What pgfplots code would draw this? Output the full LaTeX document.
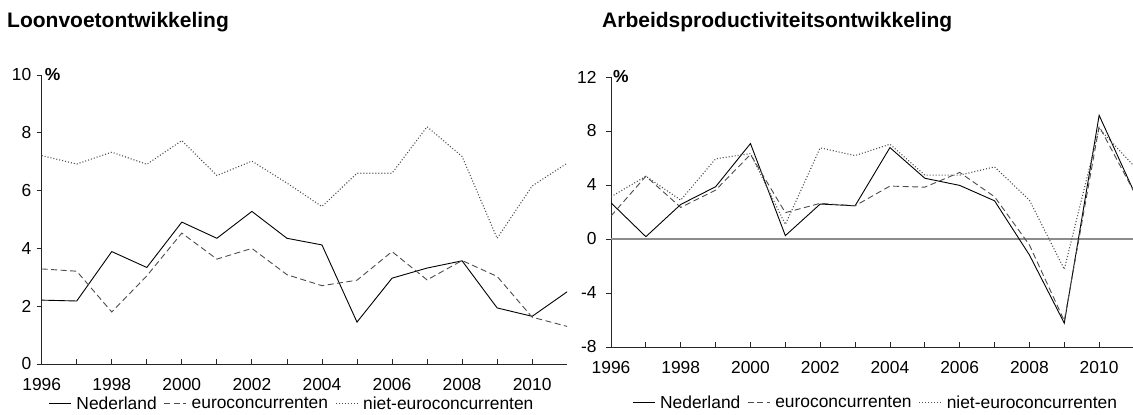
\documentclass[border=0pt]{standalone}
\usepackage{fontspec}
\setmainfont{Liberation Sans}
\usepackage{pgfplots}
\pgfplotsset{compat=1.18}
\definecolor{dashc}{gray}{0.3}
\definecolor{dotc}{gray}{0.3}
\newcommand{\tfont}{\fontsize{17.4bp}{20bp}\selectfont}
\pgfplotsset{
  myax/.style={
    scale only axis,
    axis lines*=left,
    axis line style={line width=0.8bp, black!85},
    tick style={line width=0.8bp, black!85},
    tick align=inside,
    major tick length=5bp,
    every major y tick/.append style={xshift=-5bp},
    xmin=1996, xmax=2011,
    xtick={1996,...,2010},
    xticklabels={1996,,1998,,2000,,2002,,2004,,2006,,2008,,2010},
    /pgf/number format/assume math mode=true,
    tick label style={font=\tfont},
    xticklabel style={yshift=-10.5bp},
    legend style={draw=none, fill=none, legend columns=-1, anchor=center,
      font=\tfont,
      nodes={inner xsep=0bp, inner ysep=0bp},
      /tikz/every odd column/.append style={column sep=5bp},
      /tikz/every even column/.append style={column sep=7bp}},
    legend image code/.code={\draw[##1] (0bp,0bp) -- (22bp,0bp);},
    nl/.style={black, line width=0.9bp},
    eu/.style={dashc, line width=0.9bp, dash pattern=on 6bp off 3.5bp},
    ne/.style={dotc, line width=1.1bp, dash pattern=on 1bp off 2bp},
  }
}
\begin{document}
\begin{tikzpicture}
\path[use as bounding box] (0bp,0bp) rectangle (1133bp,415bp);
\node[anchor=base west, inner sep=0bp, font=\fontsize{21bp}{24bp}\selectfont\bfseries] at (7bp,387bp) {Loonvoetontwikkeling};
\node[anchor=base west, inner sep=0bp, font=\fontsize{21bp}{24bp}\selectfont\bfseries] at (602bp,387bp) {Arbeidsproductiviteitsontwikkeling};

\begin{axis}[myax, name=L, at={(41.7bp,51bp)}, anchor=south west, width=525.5bp, height=289bp,
  ymin=0, ymax=10, ytick={0,2,...,10},
  yticklabel style={xshift=-7bp},
  legend style={at={(0.4744,-0.138)}}]
\addplot[nl] coordinates {(1996,2.21) (1997,2.18) (1998,3.89) (1999,3.34) (2000,4.91) (2001,4.35) (2002,5.28) (2003,4.35) (2004,4.12) (2005,1.45) (2006,2.97) (2007,3.32) (2008,3.57) (2009,1.94) (2010,1.65) (2011,2.5)};
\addplot[eu] coordinates {(1996,3.29) (1997,3.21) (1998,1.80) (1999,3.05) (2000,4.53) (2001,3.63) (2002,4.0) (2003,3.09) (2004,2.71) (2005,2.90) (2006,3.89) (2007,2.91) (2008,3.58) (2009,3.03) (2010,1.62) (2011,1.3)};
\addplot[ne] coordinates {(1996,7.21) (1997,6.92) (1998,7.33) (1999,6.91) (2000,7.73) (2001,6.52) (2002,7.02) (2003,6.26) (2004,5.45) (2005,6.6) (2006,6.6) (2007,8.21) (2008,7.18) (2009,4.35) (2010,6.16) (2011,6.95)};
\legend{Nederland, euroconcurrenten, niet-euroconcurrenten}
\end{axis}
\node[anchor=west, inner sep=0bp, xshift=3bp, font=\tfont\bfseries] at (L.north west) {\%};

\begin{axis}[myax, name=R, at={(611bp,68bp)}, anchor=south west, width=523bp, height=270bp,
  ymin=-8, ymax=12, ytick={-8,-4,0,4,8,12},
  yticklabel style={xshift=-11bp},
  legend style={at={(0.504,-0.207)}}]
\addplot[gray!90, line width=1.6bp, forget plot] coordinates {(1996,0) (2011,0)};
\addplot[nl] coordinates {(1996,2.68) (1997,0.17) (1998,2.56) (1999,3.87) (2000,7.07) (2001,0.25) (2002,2.59) (2003,2.46) (2004,6.77) (2005,4.5) (2006,3.97) (2007,2.83) (2008,-1.18) (2009,-6.23) (2010,9.16) (2011,3.5)};
\addplot[eu] coordinates {(1996,1.7) (1997,4.65) (1998,2.34) (1999,3.62) (2000,6.26) (2001,1.95) (2002,2.64) (2003,2.46) (2004,3.92) (2005,3.84) (2006,4.93) (2007,3.13) (2008,-0.44) (2009,-6.06) (2010,8.35) (2011,3.5)};
\addplot[ne] coordinates {(1996,3.13) (1997,4.65) (1998,2.88) (1999,5.94) (2000,6.33) (2001,1.08) (2002,6.75) (2003,6.18) (2004,7.02) (2005,4.73) (2006,4.73) (2007,5.34) (2008,2.88) (2009,-2.24) (2010,8.18) (2011,5.4)};
\legend{Nederland, euroconcurrenten, niet-euroconcurrenten}
\end{axis}
\node[anchor=west, inner sep=0bp, xshift=2bp, font=\tfont\bfseries] at (R.north west) {\%};
\end{tikzpicture}
\end{document}
